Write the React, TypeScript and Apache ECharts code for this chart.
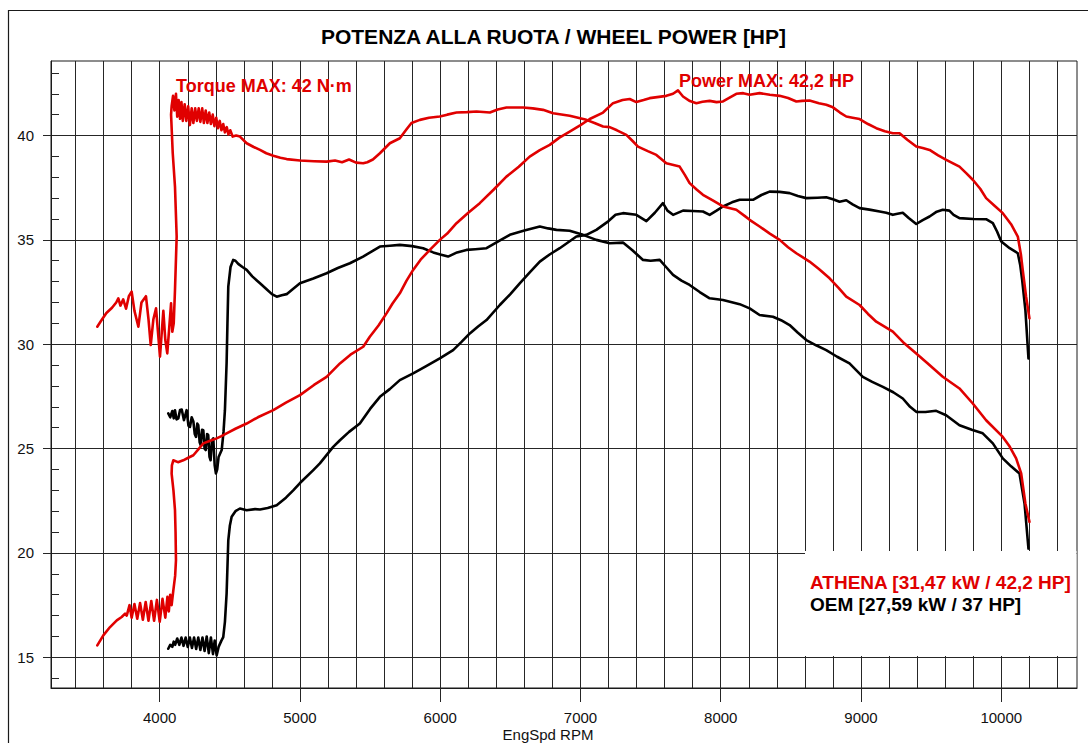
import React, { useEffect, useRef } from "react";
import * as echarts from "echarts";

// ---------- DATA ----------
const titleText = "POTENZA ALLA RUOTA / WHEEL POWER [HP]";
const torqueNote = "Torque MAX: 42 N·m";
const powerNote = "Power MAX: 42,2 HP";
const athenaLabel = "ATHENA [31,47 kW / 42,2 HP]";
const oemLabel = "OEM [27,59 kW / 37 HP]";
const xAxisTitle = "EngSpd RPM";

const X_MIN = 3225;
const X_MAX = 10540;
const Y_MIN = 13.53;
const Y_MAX = 43.57;

const xMajorTicks = [4000, 5000, 6000, 7000, 8000, 9000, 10000];
const xGridLines = [
  3400, 3600, 3800, 4000, 4200, 4400, 4600, 4800, 5000, 5200, 5400, 5600, 5800, 6000,
  6200, 6400, 6600, 6800, 7000, 7200, 7400, 7600, 7800, 8000, 8200, 8400, 8600, 8800,
  9000, 9200, 9400, 9600, 9800, 10000, 10200, 10400,
];
const yMajorTicks = [15, 20, 25, 30, 35, 40];
const yMinorTicks = [
  14, 16, 17, 18, 19, 21, 22, 23, 24, 26, 27, 28, 29, 31, 32, 33, 34, 36, 37, 38, 39, 41, 42, 43,
];

// [rpm, value]
const athenaTorque: [number, number][] = [
  [3555, 30.84], [3580, 31.1], [3620, 31.5], [3660, 31.75], [3690, 32.0], [3705, 32.2],
  [3720, 31.85], [3740, 32.15], [3760, 31.7], [3780, 32.3], [3800, 32.52], [3820, 31.6],
  [3848, 30.84], [3870, 32.0], [3902, 32.3], [3920, 31.2], [3936, 29.96], [3955, 31.2],
  [3974, 31.72], [3990, 30.4], [4002, 29.4], [4015, 30.6], [4026, 31.6], [4040, 30.2],
  [4054, 29.56], [4068, 30.8], [4081, 31.96], [4090, 30.6], [4100, 31.0], [4109, 32.6],
  [4121, 35.16], [4109, 37.55], [4093, 39.15], [4081, 41.0], [4085, 41.4], [4095, 41.9],
  [4105, 41.2], [4116, 42.0], [4125, 40.9], [4135, 41.7], [4145, 40.8], [4155, 41.6],
  [4165, 40.7], [4178, 41.5], [4190, 40.7], [4203, 41.4], [4215, 40.5], [4228, 41.3],
  [4240, 40.6], [4253, 41.3], [4265, 40.7], [4278, 41.3], [4290, 40.65], [4303, 41.3],
  [4315, 40.6], [4328, 41.2], [4340, 40.6], [4353, 41.1], [4365, 40.55], [4378, 41.0],
  [4390, 40.45], [4403, 40.85], [4415, 40.35], [4428, 40.7], [4440, 40.25], [4453, 40.55],
  [4465, 40.15], [4478, 40.4], [4490, 40.05], [4503, 40.25], [4520, 39.95], [4545, 40.0],
  [4572, 39.95], [4620, 39.63], [4670, 39.45], [4715, 39.31], [4760, 39.15], [4810, 39.03],
  [4860, 38.93], [4905, 38.87], [5000, 38.8], [5100, 38.77], [5190, 38.75], [5250, 38.8],
  [5300, 38.72], [5350, 38.85], [5400, 38.7], [5451, 38.67], [5480, 38.72], [5520, 38.85],
  [5570, 39.15], [5641, 39.63], [5712, 39.87], [5760, 40.3], [5795, 40.6], [5855, 40.75],
  [5920, 40.85], [5997, 40.91], [6050, 41.0], [6116, 41.1], [6190, 41.12], [6259, 41.15],
  [6354, 41.1], [6410, 41.25], [6472, 41.34], [6591, 41.34], [6660, 41.3], [6733, 41.23],
  [6805, 41.07], [6923, 40.95], [7042, 40.75], [7100, 40.6], [7161, 40.43], [7208, 40.4],
  [7260, 40.25], [7327, 40.03], [7370, 39.75], [7410, 39.47], [7480, 39.25], [7541, 39.07],
  [7580, 38.85], [7612, 38.67], [7707, 38.51], [7745, 38.1], [7778, 37.72], [7830, 37.4],
  [7873, 37.16], [7940, 36.9], [8016, 36.6], [8111, 36.44], [8170, 36.15], [8206, 35.96],
  [8277, 35.64], [8350, 35.3], [8420, 35.0], [8480, 34.65], [8539, 34.36], [8633, 33.96],
  [8700, 33.6], [8776, 33.16], [8840, 32.7], [8895, 32.28], [8990, 31.88], [9050, 31.45],
  [9109, 31.08], [9227, 30.6], [9300, 30.1], [9394, 29.56], [9480, 29.05], [9583, 28.44],
  [9702, 27.88], [9797, 27.16], [9892, 26.36], [10011, 25.56], [10060, 25.1], [10106, 24.53],
  [10142, 23.81], [10172, 22.37], [10201, 21.49],
];

const athenaPower: [number, number][] = [
  [3555, 15.57], [3598, 16.05], [3646, 16.45], [3694, 16.77], [3729, 16.93], [3753, 17.09],
  [3765, 17.0], [3785, 17.5], [3800, 16.9], [3820, 17.55], [3840, 16.85], [3860, 17.6],
  [3880, 16.8], [3900, 17.65], [3920, 16.75], [3940, 17.7], [3960, 16.75], [3980, 17.75],
  [4000, 16.7], [4020, 17.8], [4040, 16.9], [4055, 17.9], [4065, 17.2], [4075, 18.0],
  [4085, 17.5], [4097, 18.2], [4110, 18.9], [4116, 19.65], [4113, 21.0], [4109, 22.05],
  [4098, 23.0], [4085, 23.8], [4087, 24.2], [4097, 24.44], [4130, 24.35], [4168, 24.44],
  [4200, 24.55], [4240, 24.68], [4280, 25.0], [4311, 25.25], [4350, 25.35], [4406, 25.49],
  [4440, 25.6], [4477, 25.73], [4540, 25.95], [4620, 26.2], [4700, 26.5], [4810, 26.84],
  [4900, 27.2], [5000, 27.56], [5100, 28.05], [5190, 28.44], [5285, 29.08], [5360, 29.5],
  [5451, 29.88], [5498, 30.36], [5560, 30.9], [5617, 31.48], [5660, 31.95], [5712, 32.44],
  [5760, 33.05], [5807, 33.56], [5860, 34.05], [5926, 34.52], [5997, 35.0], [6050, 35.3],
  [6116, 35.8], [6200, 36.3], [6282, 36.76], [6380, 37.4], [6472, 38.03], [6560, 38.5],
  [6638, 38.99], [6710, 39.3], [6781, 39.55], [6850, 39.9], [6923, 40.19], [7000, 40.5],
  [7066, 40.79], [7161, 41.1], [7232, 41.55], [7300, 41.7], [7351, 41.75], [7398, 41.6],
  [7450, 41.7], [7493, 41.79], [7560, 41.85], [7612, 41.9], [7660, 42.0], [7695, 42.16],
  [7715, 42.0], [7731, 41.87], [7780, 41.65], [7826, 41.55], [7870, 41.62], [7921, 41.66],
  [7970, 41.6], [8016, 41.63], [8060, 41.8], [8111, 42.0], [8160, 42.03], [8206, 41.95],
  [8277, 42.03], [8350, 41.95], [8420, 41.9], [8480, 41.8], [8539, 41.63], [8580, 41.66],
  [8633, 41.68], [8700, 41.55], [8752, 41.47], [8800, 41.35], [8850, 41.1], [8895, 40.91],
  [8940, 40.85], [8990, 40.79], [9050, 40.55], [9109, 40.35], [9170, 40.2], [9227, 40.11],
  [9275, 40.11], [9330, 39.8], [9394, 39.47], [9440, 39.4], [9489, 39.31], [9550, 39.05],
  [9608, 38.83], [9660, 38.65], [9702, 38.51], [9750, 38.2], [9797, 37.88], [9850, 37.45],
  [9892, 37.0], [9950, 36.65], [10011, 36.28], [10070, 35.75], [10118, 35.16], [10140, 34.3],
  [10153, 33.56], [10177, 32.28], [10201, 31.24],
];

const oemTorque: [number, number][] = [
  [4061, 26.69], [4075, 26.5], [4090, 26.8], [4100, 26.45], [4109, 26.84], [4120, 26.4],
  [4133, 26.45], [4145, 26.85], [4157, 26.87], [4173, 26.36], [4192, 26.84], [4205, 26.1],
  [4216, 26.04], [4228, 26.5], [4240, 26.3], [4250, 25.7], [4259, 25.56], [4268, 26.2],
  [4275, 26.12], [4285, 25.3], [4292, 25.17], [4302, 25.9], [4311, 25.88], [4320, 25.0],
  [4328, 24.93], [4338, 25.7], [4346, 25.64], [4355, 24.6], [4363, 24.44], [4372, 25.4],
  [4382, 25.49], [4392, 24.2], [4401, 23.81], [4410, 24.0], [4420, 24.6], [4442, 24.93],
  [4455, 25.8], [4465, 26.84], [4477, 29.1], [4483, 31.0], [4489, 32.76], [4505, 33.7],
  [4524, 34.04], [4540, 34.0], [4560, 33.85], [4590, 33.7], [4620, 33.56], [4660, 33.25],
  [4715, 32.92], [4760, 32.65], [4800, 32.4], [4834, 32.28], [4870, 32.35], [4905, 32.4],
  [4950, 32.65], [5000, 32.92], [5095, 33.15], [5190, 33.4], [5270, 33.65], [5356, 33.88],
  [5450, 34.2], [5570, 34.68], [5641, 34.72], [5712, 34.76], [5800, 34.7], [5878, 34.6],
  [5950, 34.4], [6000, 34.3], [6056, 34.2], [6120, 34.4], [6187, 34.52], [6250, 34.55],
  [6330, 34.6], [6420, 34.95], [6496, 35.24], [6600, 35.45], [6710, 35.64], [6770, 35.55],
  [6829, 35.48], [6923, 35.44], [7018, 35.24], [7113, 35.0], [7208, 34.84], [7303, 34.87],
  [7370, 34.5], [7446, 34.04], [7500, 34.0], [7565, 34.04], [7610, 33.7], [7660, 33.32],
  [7720, 33.05], [7778, 32.84], [7850, 32.5], [7921, 32.2], [8016, 32.12], [8135, 31.92],
  [8206, 31.72], [8277, 31.4], [8372, 31.32], [8430, 31.15], [8491, 30.92], [8550, 30.55],
  [8610, 30.2], [8680, 29.95], [8752, 29.72], [8830, 29.4], [8918, 29.08], [9013, 28.44],
  [9080, 28.2], [9156, 27.96], [9230, 27.7], [9298, 27.4], [9350, 27.0], [9394, 26.76],
  [9460, 26.75], [9536, 26.81], [9607, 26.6], [9702, 26.12], [9790, 25.9], [9868, 25.73],
  [9940, 25.25], [10011, 24.53], [10070, 24.15], [10130, 23.81], [10150, 23.0], [10166, 22.37],
  [10194, 20.21],
];

const oemPower: [number, number][] = [
  [4061, 15.41], [4075, 15.6], [4090, 15.5], [4100, 15.75], [4110, 15.6], [4125, 15.9],
  [4140, 15.6], [4155, 15.95], [4170, 15.55], [4185, 15.95], [4200, 15.5], [4215, 15.95],
  [4230, 15.45], [4245, 15.95], [4260, 15.4], [4275, 15.95], [4290, 15.35], [4305, 15.95],
  [4320, 15.3], [4335, 16.0], [4350, 15.2], [4365, 15.95], [4380, 15.15], [4392, 15.8],
  [4406, 15.09], [4420, 15.5], [4440, 15.8], [4453, 15.97], [4465, 16.7], [4477, 18.05],
  [4489, 20.6], [4500, 21.3], [4513, 21.73], [4540, 22.0], [4572, 22.13], [4620, 22.05],
  [4680, 22.1], [4715, 22.08], [4770, 22.15], [4834, 22.29], [4900, 22.65], [4952, 23.0],
  [5000, 23.35], [5095, 23.97], [5142, 24.29], [5237, 25.08], [5285, 25.4], [5350, 25.8],
  [5427, 26.2], [5500, 26.9], [5570, 27.48], [5640, 27.85], [5712, 28.28], [5807, 28.6],
  [5900, 28.95], [5997, 29.32], [6092, 29.72], [6150, 30.1], [6211, 30.52], [6270, 30.85],
  [6330, 31.16], [6425, 31.88], [6500, 32.4], [6567, 32.92], [6640, 33.45], [6710, 33.96],
  [6780, 34.3], [6852, 34.6], [6971, 35.16], [7042, 35.24], [7113, 35.48], [7200, 35.9],
  [7250, 36.2], [7303, 36.28], [7398, 36.2], [7470, 35.9], [7530, 36.3], [7588, 36.76],
  [7620, 36.4], [7660, 36.2], [7731, 36.4], [7800, 36.38], [7873, 36.36], [7921, 36.2],
  [7970, 36.4], [8016, 36.6], [8080, 36.8], [8135, 36.92], [8230, 36.92], [8290, 37.15],
  [8348, 37.31], [8420, 37.3], [8491, 37.24], [8550, 37.1], [8610, 37.0], [8690, 37.02],
  [8752, 37.04], [8800, 36.95], [8847, 36.83], [8895, 36.9], [8940, 36.7], [8990, 36.52],
  [9060, 36.45], [9133, 36.36], [9180, 36.3], [9227, 36.2], [9260, 36.25], [9298, 36.3],
  [9340, 36.05], [9394, 35.76], [9440, 35.95], [9489, 36.12], [9540, 36.35], [9583, 36.44],
  [9630, 36.4], [9660, 36.2], [9702, 36.04], [9800, 36.0], [9892, 35.99], [9940, 35.8],
  [9970, 35.4], [10000, 34.92], [10060, 34.6], [10118, 34.36], [10135, 33.8], [10149, 33.08],
  [10172, 31.64], [10194, 29.32],
];

// ---------- STYLE ----------
const RED = "#e00000";
const BLACK = "#000000";
const GRID = "#262626";
const BOLD = '"Liberation Sans", Arial, sans-serif';
const LABEL_FONT = '"Liberation Sans", Arial, sans-serif';

function lineSeries(name: string, data: [number, number][], color: string, z: number) {
  return {
    name,
    type: "line",
    data,
    xAxisIndex: 0,
    yAxisIndex: 0,
    showSymbol: false,
    symbol: "none",
    smooth: false,
    clip: true,
    silent: true,
    z,
    lineStyle: { color, width: 2.6, join: "round", cap: "round" },
    itemStyle: { color },
  };
}

function txt(text: string, x: number, y: number, font: string, fill: string, align: string) {
  return {
    type: "text",
    x,
    y,
    z: 20,
    silent: true,
    style: {
      text,
      font,
      fill,
      align,
      textAlign: align,
      verticalAlign: "middle",
      textVerticalAlign: "middle",
    },
  };
}

const option = {
  animation: false,
  backgroundColor: "#ffffff",
  grid: {
    left: 51,
    top: 61,
    right: 11,
    bottom: 55,
    show: true,
    borderColor: "#1a1a1a",
    borderWidth: 1,
    backgroundColor: "transparent",
  },
  xAxis: [
    {
      type: "value",
      min: X_MIN,
      max: X_MAX,
      position: "bottom",
      axisLine: { show: true, onZero: false, lineStyle: { color: "#1a1a1a", width: 1 } },
      axisTick: {
        show: true,
        customValues: xMajorTicks,
        length: 14,
        inside: false,
        lineStyle: { color: GRID, width: 1 },
      },
      axisLabel: {
        show: true,
        customValues: xMajorTicks,
        margin: 22,
        fontFamily: LABEL_FONT,
        fontSize: 15,
        color: "#111",
        formatter: (v: number) => String(v),
      },
      splitLine: { show: false },
    },
    {
      type: "value",
      min: X_MIN,
      max: X_MAX,
      position: "bottom",
      axisLine: { show: false, onZero: false },
      axisTick: { show: false, customValues: xGridLines },
      axisLabel: { show: false, customValues: xGridLines },
      splitLine: { show: true, lineStyle: { color: GRID, width: 1 } },
    },
  ],
  yAxis: [
    {
      type: "value",
      min: Y_MIN,
      max: Y_MAX,
      position: "left",
      axisLine: { show: true, onZero: false, lineStyle: { color: "#1a1a1a", width: 1 } },
      axisTick: {
        show: true,
        customValues: yMajorTicks,
        length: 8,
        inside: false,
        lineStyle: { color: GRID, width: 1 },
      },
      axisLabel: {
        show: true,
        customValues: yMajorTicks,
        margin: 17,
        fontFamily: LABEL_FONT,
        fontSize: 15,
        color: "#111",
        formatter: (v: number) => String(v),
      },
      splitLine: { show: true, lineStyle: { color: GRID, width: 1 } },
    },
    {
      type: "value",
      min: Y_MIN,
      max: Y_MAX,
      position: "left",
      axisLine: { show: false, onZero: false },
      axisTick: {
        show: true,
        customValues: yMinorTicks,
        length: 8,
        inside: true,
        lineStyle: { color: GRID, width: 1 },
      },
      axisLabel: { show: false, customValues: yMinorTicks },
      splitLine: { show: false },
    },
  ],
  graphic: [
    {
      type: "rect",
      silent: true,
      z: 0,
      shape: { x: 8.5, y: 10.5, width: 1200, height: 900 },
      style: { fill: "none", stroke: "#1a1a1a", lineWidth: 1.2 },
    },
    {
      type: "rect",
      silent: true,
      z: 1,
      shape: { x: 805, y: 551, width: 271.5, height: 105 },
      style: { fill: "#ffffff", stroke: "none" },
    },
    txt(titleText, 553.5, 36, `bold 21px ${BOLD}`, "#000", "center"),
    txt(torqueNote, 176, 85.5, `bold 18px ${BOLD}`, RED, "left"),
    txt(powerNote, 679, 80.5, `bold 18px ${BOLD}`, RED, "left"),
    txt(athenaLabel, 810, 582.5, `bold 19px ${BOLD}`, RED, "left"),
    txt(oemLabel, 810, 604.5, `bold 19px ${BOLD}`, "#000", "left"),
    txt(xAxisTitle, 548, 734.3, `15px ${LABEL_FONT}`, "#111", "center"),
  ],
  series: [
    lineSeries("OEM power", oemPower, BLACK, 3),
    lineSeries("OEM torque", oemTorque, BLACK, 3),
    lineSeries("ATHENA power", athenaPower, RED, 4),
    lineSeries("ATHENA torque", athenaTorque, RED, 4),
  ],
};

export default function App() {
  const ref = useRef<HTMLDivElement>(null);
  useEffect(() => {
    if (!ref.current) return;
    const chart = echarts.init(ref.current, null, { renderer: "svg" });
    chart.setOption(option as any);
    return () => chart.dispose();
  }, []);
  return (
    <div
      ref={ref}
      style={{ position: "fixed", left: 0, top: 0, width: 1088, height: 743, background: "#fff" }}
    />
  );
}
